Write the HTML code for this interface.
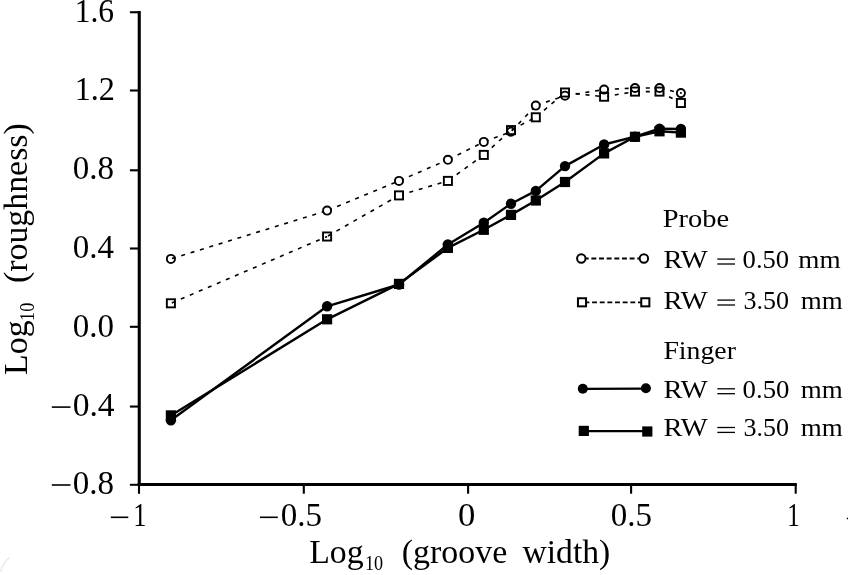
<!DOCTYPE html>
<html><head><meta charset="utf-8"><title>Chart</title>
<style>
html,body{margin:0;padding:0;background:#fff;}
body{width:848px;height:575px;overflow:hidden;font-family:"Liberation Serif",serif;}
svg{display:block;will-change:transform;}
text{font-family:"Liberation Serif",serif;fill:#000;}
</style></head><body>
<svg width="848" height="575" viewBox="0 0 848 575">
<rect x="0" y="0" width="848" height="575" fill="#fff"/>

<g stroke="#000" fill="none">
<line x1="139.25" y1="11" x2="139.25" y2="486" stroke-width="3.1"/>
<line x1="139.0" y1="485" x2="139.0" y2="493.8" stroke-width="2.1"/>
<line x1="137.7" y1="484.45" x2="796.8" y2="484.45" stroke-width="2.9"/>
<line x1="129.9" y1="484.8" x2="139" y2="484.8" stroke-width="2"/>
<line x1="129.9" y1="12.25" x2="139" y2="12.25" stroke-width="2.1"/>
<line x1="129.9" y1="90.5" x2="139" y2="90.5" stroke-width="2.1"/>
<line x1="129.9" y1="170.3" x2="139" y2="170.3" stroke-width="2.1"/>
<line x1="129.9" y1="248.5" x2="139" y2="248.5" stroke-width="2.1"/>
<line x1="129.9" y1="326.8" x2="139" y2="326.8" stroke-width="2.1"/>
<line x1="129.9" y1="406.55" x2="139" y2="406.55" stroke-width="2.1"/>
<line x1="303.8" y1="484" x2="303.8" y2="493.7" stroke-width="2.1"/>
<line x1="468.1" y1="484" x2="468.1" y2="493.7" stroke-width="2.1"/>
<line x1="631.1" y1="484" x2="631.1" y2="493.7" stroke-width="2.1"/>
<line x1="795.7" y1="484" x2="795.7" y2="493.7" stroke-width="2.1"/>
</g>
<text x="74.65" y="21.8" font-size="33" textLength="39.42" lengthAdjust="spacingAndGlyphs">1.6</text>
<text x="74.65" y="100.4" font-size="33" textLength="40.23" lengthAdjust="spacingAndGlyphs">1.2</text>
<text x="72.65" y="179.3" font-size="33">0.8</text>
<text x="72.65" y="258.0" font-size="33">0.4</text>
<text x="72.65" y="336.8" font-size="33">0.0</text>
<text x="72.65" y="415.5" font-size="33" textLength="41.98" lengthAdjust="spacingAndGlyphs">0.4</text>
<text x="72.65" y="493.5" font-size="33">0.8</text>
<text x="133.15" y="526.3" font-size="33" textLength="13.2" lengthAdjust="spacingAndGlyphs">1</text>
<text x="280.75" y="526.3" font-size="33">0.5</text>
<text x="457.95" y="526.3" font-size="33" textLength="17.33" lengthAdjust="spacingAndGlyphs">0</text>
<text x="610.85" y="526.3" font-size="33">0.5</text>
<text x="787.25" y="526.3" font-size="33" textLength="12.49" lengthAdjust="spacingAndGlyphs">1</text>
<g stroke="#000" stroke-width="1.6">
<line x1="51.8" y1="407.1" x2="70.5" y2="407.1"/>
<line x1="51.8" y1="485.0" x2="70.5" y2="485.0"/>
<line x1="110.8" y1="517.3" x2="128.3" y2="517.3"/>
<line x1="259.9" y1="517.3" x2="277.8" y2="517.3"/>
<line x1="846.8" y1="518.4" x2="848" y2="518.4" stroke-width="1.5"/>
</g>
<text x="309.2" y="563.0" font-size="33" textLength="54.51" lengthAdjust="spacingAndGlyphs">Log</text>
<text x="365.0" y="569.6" font-size="20" textLength="18.12" lengthAdjust="spacingAndGlyphs">10</text>
<text x="401.8" y="563.0" font-size="33" textLength="105.41" lengthAdjust="spacingAndGlyphs">(groove</text>
<text x="522.5" y="563.0" font-size="33" textLength="87.75" lengthAdjust="spacingAndGlyphs">width)</text>
<g transform="translate(27,374) rotate(-90)">
<text x="-0.9" y="0" font-size="33" textLength="54.51" lengthAdjust="spacingAndGlyphs">Log</text>
<text x="53.0" y="6.7" font-size="20" textLength="18.34" lengthAdjust="spacingAndGlyphs">10</text>
<text x="91.0" y="0" font-size="33" textLength="159.74" lengthAdjust="spacingAndGlyphs">(roughness)</text>
</g>
<g stroke="#000" stroke-width="1.6" fill="none" stroke-dasharray="4 5.8" stroke-dashoffset="-1">
<line x1="170.9" y1="258.9" x2="327.1" y2="210.6"/>
<line x1="327.1" y1="210.6" x2="399.0" y2="180.9"/>
<line x1="399.0" y1="180.9" x2="447.9" y2="159.8"/>
<line x1="447.9" y1="159.8" x2="483.8" y2="141.9"/>
<line x1="483.8" y1="141.9" x2="511.0" y2="131.7"/>
<line x1="511.0" y1="131.7" x2="535.8" y2="105.6"/>
<line x1="535.8" y1="105.6" x2="565.0" y2="95.7"/>
<line x1="565.0" y1="95.7" x2="604.1" y2="89.6"/>
<line x1="604.1" y1="89.6" x2="635.0" y2="88.0"/>
<line x1="635.0" y1="88.0" x2="659.5" y2="88.0"/>
<line x1="659.5" y1="88.0" x2="680.9" y2="93.1"/>
<line x1="170.9" y1="303.3" x2="327.1" y2="236.5"/>
<line x1="327.1" y1="236.5" x2="399.0" y2="195.4"/>
<line x1="399.0" y1="195.4" x2="447.9" y2="180.9"/>
<line x1="447.9" y1="180.9" x2="483.8" y2="154.9"/>
<line x1="483.8" y1="154.9" x2="511.0" y2="130.1"/>
<line x1="511.0" y1="130.1" x2="535.8" y2="117.3"/>
<line x1="535.8" y1="117.3" x2="565.0" y2="92.5"/>
<line x1="565.0" y1="92.5" x2="604.1" y2="96.7"/>
<line x1="604.1" y1="96.7" x2="635.0" y2="91.6"/>
<line x1="635.0" y1="91.6" x2="659.5" y2="91.6"/>
<line x1="659.5" y1="91.6" x2="680.9" y2="103.0"/>
</g>
<polyline points="170.9,420.2 327.1,306.3 399.0,284.5 447.9,244.5 483.8,222.8 511.0,203.7 535.8,190.9 565.0,166.1 604.1,144.5 635.0,136.6 659.5,128.7 680.9,129.0" fill="none" stroke="#000" stroke-width="2.4" stroke-linejoin="round"/>
<polyline points="170.9,415.4 327.1,319.3 399.0,283.9 447.9,247.9 483.8,229.8 511.0,214.9 535.8,200.5 565.0,182.0 604.1,153.4 635.0,136.8 659.5,131.3 680.9,132.6" fill="none" stroke="#000" stroke-width="2.4" stroke-linejoin="round"/>
<rect x="395.80" y="192.20" width="6.4" height="6.4" fill="#fff"/>
<rect x="444.70" y="177.70" width="6.4" height="6.4" fill="#fff"/>
<rect x="480.60" y="151.70" width="6.4" height="6.4" fill="#fff"/>
<rect x="532.60" y="114.10" width="6.4" height="6.4" fill="#fff"/>
<rect x="561.80" y="89.30" width="6.4" height="6.4" fill="#fff"/>
<rect x="600.90" y="93.50" width="6.4" height="6.4" fill="#fff"/>
<rect x="631.80" y="88.40" width="6.4" height="6.4" fill="#fff"/>
<rect x="656.30" y="88.40" width="6.4" height="6.4" fill="#fff"/>
<rect x="677.70" y="99.80" width="6.4" height="6.4" fill="#fff"/>
<circle cx="327.1" cy="210.6" r="3.2" fill="#fff"/>
<circle cx="399.0" cy="180.9" r="3.2" fill="#fff"/>
<circle cx="447.9" cy="159.8" r="3.2" fill="#fff"/>
<circle cx="483.8" cy="141.9" r="3.2" fill="#fff"/>
<circle cx="535.8" cy="105.6" r="3.2" fill="#fff"/>
<circle cx="565.0" cy="95.7" r="3.2" fill="#fff"/>
<circle cx="604.1" cy="89.6" r="3.2" fill="#fff"/>
<circle cx="635.0" cy="88.0" r="3.2" fill="#fff"/>
<circle cx="659.5" cy="88.0" r="3.2" fill="#fff"/>
<circle cx="680.9" cy="93.1" r="3.2" fill="#fff"/>
<g fill="none" stroke="#000" stroke-width="1.9">
<rect x="166.85" y="299.25" width="8.1" height="8.1"/>
<rect x="323.05" y="232.45" width="8.1" height="8.1"/>
<rect x="394.95" y="191.35" width="8.1" height="8.1"/>
<rect x="443.85" y="176.85" width="8.1" height="8.1"/>
<rect x="479.75" y="150.85" width="8.1" height="8.1"/>
<rect x="506.95" y="126.05" width="8.1" height="8.1"/>
<rect x="531.75" y="113.25" width="8.1" height="8.1"/>
<rect x="560.95" y="88.45" width="8.1" height="8.1"/>
<rect x="600.05" y="92.65" width="8.1" height="8.1"/>
<rect x="630.95" y="87.55" width="8.1" height="8.1"/>
<rect x="655.45" y="87.55" width="8.1" height="8.1"/>
<rect x="676.85" y="98.95" width="8.1" height="8.1"/>
<circle cx="170.9" cy="258.9" r="4.05"/>
<circle cx="327.1" cy="210.6" r="4.05"/>
<circle cx="399.0" cy="180.9" r="4.05"/>
<circle cx="447.9" cy="159.8" r="4.05"/>
<circle cx="483.8" cy="141.9" r="4.05"/>
<circle cx="511.0" cy="131.7" r="4.05"/>
<circle cx="535.8" cy="105.6" r="4.05"/>
<circle cx="565.0" cy="95.7" r="4.05"/>
<circle cx="604.1" cy="89.6" r="4.05"/>
<circle cx="635.0" cy="88.0" r="4.05"/>
<circle cx="659.5" cy="88.0" r="4.05"/>
<circle cx="680.9" cy="93.1" r="4.05"/>
</g>
<circle cx="680.9" cy="93.1" r="1" fill="#000"/>
<rect x="165.8" y="410.3" width="10.2" height="10.2" fill="#000"/>
<rect x="322.0" y="314.2" width="10.2" height="10.2" fill="#000"/>
<rect x="393.9" y="278.8" width="10.2" height="10.2" fill="#000"/>
<rect x="442.8" y="242.8" width="10.2" height="10.2" fill="#000"/>
<rect x="478.7" y="224.7" width="10.2" height="10.2" fill="#000"/>
<rect x="505.9" y="209.8" width="10.2" height="10.2" fill="#000"/>
<rect x="530.7" y="195.4" width="10.2" height="10.2" fill="#000"/>
<rect x="559.9" y="176.9" width="10.2" height="10.2" fill="#000"/>
<rect x="599.0" y="148.3" width="10.2" height="10.2" fill="#000"/>
<rect x="629.9" y="131.7" width="10.2" height="10.2" fill="#000"/>
<rect x="654.4" y="126.2" width="10.2" height="10.2" fill="#000"/>
<rect x="675.8" y="127.5" width="10.2" height="10.2" fill="#000"/>
<circle cx="170.9" cy="420.2" r="5.2" fill="#000"/>
<circle cx="327.1" cy="306.3" r="5.2" fill="#000"/>
<circle cx="399.0" cy="284.5" r="5.2" fill="#000"/>
<circle cx="447.9" cy="244.5" r="5.2" fill="#000"/>
<circle cx="483.8" cy="222.8" r="5.2" fill="#000"/>
<circle cx="511.0" cy="203.7" r="5.2" fill="#000"/>
<circle cx="535.8" cy="190.9" r="5.2" fill="#000"/>
<circle cx="565.0" cy="166.1" r="5.2" fill="#000"/>
<circle cx="604.1" cy="144.5" r="5.2" fill="#000"/>
<circle cx="635.0" cy="136.6" r="5.2" fill="#000"/>
<circle cx="659.5" cy="128.7" r="5.2" fill="#000"/>
<circle cx="680.9" cy="129.0" r="5.2" fill="#000"/>
<text x="662.75" y="226.9" font-size="26" textLength="66.43" lengthAdjust="spacingAndGlyphs">Probe</text>
<text x="663.45" y="358.9" font-size="26" textLength="72.45" lengthAdjust="spacingAndGlyphs">Finger</text>
<text x="663.45" y="267.8" font-size="26" textLength="44.32" lengthAdjust="spacingAndGlyphs">RW</text>
<text x="742.6" y="267.8" font-size="26" textLength="46.55" lengthAdjust="spacingAndGlyphs">0.50</text>
<text x="798.3" y="267.8" font-size="26" textLength="42.3" lengthAdjust="spacingAndGlyphs">mm</text>
<line x1="717.3" y1="259.1" x2="735" y2="259.1" stroke="#000" stroke-width="1.3"/>
<line x1="717.3" y1="264.0" x2="735" y2="264.0" stroke="#000" stroke-width="1.3"/>
<text x="663.45" y="308.8" font-size="26" textLength="44.32" lengthAdjust="spacingAndGlyphs">RW</text>
<text x="743.45" y="308.8" font-size="26">3.50</text>
<text x="800.7" y="308.8" font-size="26" textLength="41.94" lengthAdjust="spacingAndGlyphs">mm</text>
<line x1="717.3" y1="300.1" x2="735" y2="300.1" stroke="#000" stroke-width="1.3"/>
<line x1="717.3" y1="305.0" x2="735" y2="305.0" stroke="#000" stroke-width="1.3"/>
<text x="663.45" y="397.5" font-size="26" textLength="44.32" lengthAdjust="spacingAndGlyphs">RW</text>
<text x="742.6" y="397.5" font-size="26" textLength="46.86" lengthAdjust="spacingAndGlyphs">0.50</text>
<text x="800.7" y="397.5" font-size="26" textLength="41.94" lengthAdjust="spacingAndGlyphs">mm</text>
<line x1="717.3" y1="388.8" x2="735" y2="388.8" stroke="#000" stroke-width="1.3"/>
<line x1="717.3" y1="393.7" x2="735" y2="393.7" stroke="#000" stroke-width="1.3"/>
<text x="663.45" y="436.2" font-size="26" textLength="44.32" lengthAdjust="spacingAndGlyphs">RW</text>
<text x="743.45" y="436.2" font-size="26">3.50</text>
<text x="800.7" y="436.2" font-size="26" textLength="41.94" lengthAdjust="spacingAndGlyphs">mm</text>
<line x1="717.3" y1="427.5" x2="735" y2="427.5" stroke="#000" stroke-width="1.3"/>
<line x1="717.3" y1="432.4" x2="735" y2="432.4" stroke="#000" stroke-width="1.3"/>
<line x1="583.75" y1="258.5" x2="640" y2="258.5" stroke="#000" stroke-width="1.9" stroke-dasharray="4.9 2.75"/>
<line x1="584.45" y1="302.4" x2="641.5" y2="302.4" stroke="#000" stroke-width="1.9" stroke-dasharray="4.9 2.75"/>
<circle cx="581.3" cy="258.5" r="4.2" fill="#fff" stroke="#000" stroke-width="2"/>
<circle cx="643.9" cy="258.5" r="4.2" fill="#fff" stroke="#000" stroke-width="2"/>
<rect x="577.95" y="298.25" width="8.1" height="8.1" fill="#fff" stroke="#000" stroke-width="2"/>
<rect x="641.25" y="298.25" width="8.1" height="8.1" fill="#fff" stroke="#000" stroke-width="2"/>
<line x1="582.8" y1="388.8" x2="645.9" y2="388.6" stroke="#000" stroke-width="2.2"/>
<circle cx="582.8" cy="388.8" r="5" fill="#000"/>
<circle cx="645.9" cy="388.2" r="5" fill="#000"/>
<line x1="583.8" y1="431.2" x2="647.3" y2="431.2" stroke="#000" stroke-width="2.2"/>
<rect x="578.7" y="425.8" width="10.2" height="10.2" fill="#000"/>
<rect x="642.2" y="426.4" width="10.2" height="10.2" fill="#000"/>
<path d="M0.5 572 Q3 562 9.5 557.5" fill="none" stroke="#ececec" stroke-width="1.6"/>
</svg></body></html>
